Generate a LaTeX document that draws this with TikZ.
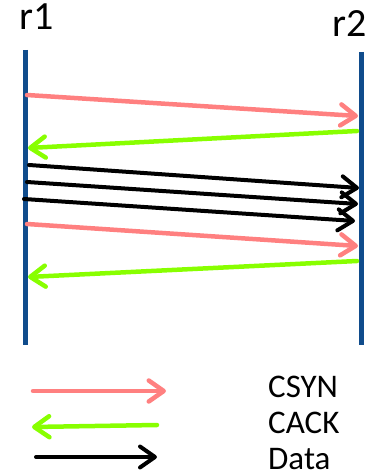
\documentclass[tikz,border=0pt]{standalone}
\usepackage{fontspec}
\setmainfont{Carlito}
\usetikzlibrary{arrows.meta}
\definecolor{lifeblue}{RGB}{16,76,140}
\definecolor{synred}{RGB}{255,128,128}
\definecolor{ackgreen}{RGB}{136,255,0}
\begin{document}
\begin{tikzpicture}
[x=1pt,y=-1pt,
  tipdecorate/.style={-{Straight Barb[length=15pt,width=21pt,round]}},
  lifedecorate/.style={-,line width=4.5pt,draw=lifeblue},
  syndecorate/.style={tipdecorate,line width=4.5pt,draw=synred,line cap=round},
  ackdecorate/.style={tipdecorate,line width=4.5pt,draw=ackgreen,line cap=round},
  datadecorate/.style={tipdecorate,line width=4pt,draw=black,line cap=round},
  labeldecorate/.style={inner sep=0pt,anchor=base west}]
\useasboundingbox (0,0) rectangle (379,476);
%% router names
\node (r1) at (19,30) [labeldecorate,font=\fontsize{40}{40}\selectfont] {r1};
\node (r2) at (332,37) [labeldecorate,font=\fontsize{40}{40}\selectfont] {r2};
%% end points of lines and arrows
\foreach \nodename/\x/\y in {r1top/25.5/50, r1bot/25.5/345, r2top/361.5/52, r2bot/361.5/345,
  s1a/27/95, s1b/358/116, a1a/357/131, a1b/28/148,
  d1a/29/165, d1b/359/188, d2a/27/182, d2b/358/204, d3a/24/199, d3b/355/221,
  s2a/27/224, s2b/358/246, a2a/357/261, a2b/28/277,
  ls1/33/391, ls2/166/391, la1/157/425, la2/32/427, ld1/36/457, ld2/157/457} {
  \coordinate (\nodename) at (\x,\y);
}
%% lifelines
\draw[lifedecorate] (r1top) -- (r1bot);
\draw[lifedecorate] (r2top) -- (r2bot);
%% messages
\draw[syndecorate] (s1a) -- (s1b);
\draw[ackdecorate] (a1a) -- (a1b);
\foreach \startnode/\endnode in {d1a/d1b, d2a/d2b, d3a/d3b} {
  \draw[datadecorate] (\startnode) -- (\endnode);
}
\draw[syndecorate] (s2a) -- (s2b);
\draw[ackdecorate] (a2a) -- (a2b);
%% legend
\draw[syndecorate] (ls1) -- (ls2);
\draw[ackdecorate] (la1) -- (la2);
\draw[datadecorate] (ld1) -- (ld2);
\node (csyn) at (268,397) [labeldecorate,font=\fontsize{33}{33}\selectfont] {CSYN};
\node (cack) at (268,433) [labeldecorate,font=\fontsize{33}{33}\selectfont] {CACK};
\node (data) at (268,469) [labeldecorate,font=\fontsize{33}{33}\selectfont] {Data};
\end{tikzpicture}
\end{document}
